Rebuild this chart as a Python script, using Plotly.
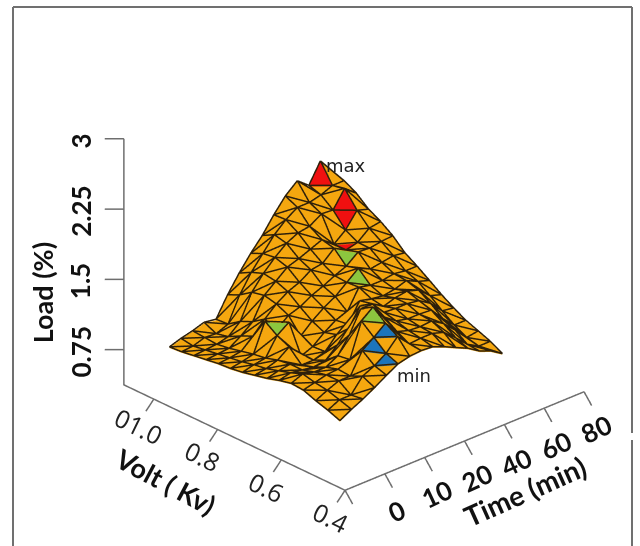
import plotly.graph_objects as go

time_ticks = ["0", "10", "20", "40", "60", "80"]
time_tick_pos = [1, 2, 3, 4, 5, 6]
volt_ticks = [0.4, 0.6, 0.8, 1.0]
volt_labels = ["0.4", "0.6", "0.8", "01.0"]
load_ticks = [0.75, 1.5, 2.25, 3]
load_labels = ["0.75", "1.5", "2.25", "3"]

time_grid = [0, .29, .58, .87, 1.17, 1.46, 1.75, 2.04, 2.33, 2.62, 2.91, 3.21, 3.50, 3.79, 4.08]
volt_grid = [.416, .454, .492, .531, .569, .607, .645, .684, .722, .760, .798, .836, .875, .913, .951]
load = [
 [1.08,1.13,1.17,1.22,1.23,1.20,1.16,1.13,1.10,1.08,1.07,1.05,1.03,1.01,1.00],
 [1.15,1.19,1.23,1.25,1.28,1.23,1.19,1.15,1.13,1.10,1.08,1.06,1.04,1.02,1.04],
 [1.21,1.19,1.28,1.28,1.25,1.21,1.21,1.19,1.15,1.13,1.10,1.07,1.05,1.06,1.07],
 [1.28,1.34,1.28,1.29,1.25,1.19,1.15,1.28,1.34,1.43,1.21,1.15,1.08,1.05,1.11],
 [1.36,1.40,1.50,1.34,1.32,1.21,1.15,1.13,1.43,1.29,1.34,1.25,1.19,1.10,1.09],
 [1.43,1.48,1.59,1.70,1.49,1.32,1.19,1.18,1.23,1.39,1.45,1.48,1.45,1.36,1.30],
 [1.46,1.61,1.69,1.80,1.72,1.45,1.32,1.28,1.34,1.43,1.53,1.58,1.60,1.55,1.48],
 [1.47,1.48,1.55,1.64,1.72,1.64,1.38,1.36,1.43,1.50,1.58,1.68,1.72,1.70,1.64],
 [1.46,1.49,1.51,1.55,1.58,1.61,1.58,1.40,1.50,1.55,1.66,1.72,1.82,1.85,1.78],
 [1.41,1.49,1.50,1.52,1.57,1.53,1.55,1.61,1.60,1.61,1.68,1.77,1.88,1.96,1.95],
 [1.35,1.45,1.51,1.52,1.57,1.57,1.53,1.58,1.70,1.66,1.79,1.82,1.90,2.04,2.10],
 [1.29,1.34,1.43,1.51,1.55,1.59,1.55,1.58,1.64,1.76,1.72,1.72,1.98,2.04,2.21],
 [1.21,1.22,1.31,1.37,1.47,1.55,1.59,1.60,1.66,1.75,1.75,1.82,1.97,2.07,2.11],
 [1.16,1.15,1.18,1.25,1.34,1.44,1.53,1.58,1.68,1.77,1.85,1.98,2.15,2.12,2.32],
 [1.08,1.15,1.20,1.25,1.32,1.40,1.49,1.58,1.66,1.78,1.87,1.94,2.05,2.12,2.15],
]
# marked facets: (time index, volt index, 'u' upper / 'l' lower, colour)
ORANGE, RED, GREEN, BLUE = "#F5A70F", "#F01010", "#8CC63F", "#1C75BC"
marked = [
 (12, 13, 'u', RED), (12, 11, 'u', RED), (12, 11, 'l', RED), (11, 10, 'l', RED),
 (10, 9, 'l', GREEN), (9, 7, 'u', GREEN), (5, 2, 'u', GREEN), (3, 8, 'l', GREEN),
 (5, 1, 'u', BLUE), (4, 1, 'u', BLUE), (4, 0, 'u', BLUE),
]

nx, ny = len(time_grid), len(volt_grid)
vid = lambda i, j: i * ny + j
vx = [time_grid[i] for i in range(nx) for j in range(ny)]
vy = [volt_grid[j] for i in range(nx) for j in range(ny)]
vz = [load[i][j] for i in range(nx) for j in range(ny)]
colour_of = {(a, b, c): d for a, b, c, d in marked}
I, J, K, FC = [], [], [], []
ex, ey, ez = [], [], []
LIFT = 0.012
def edge(a, b):
    ex.extend([vx[a], vx[b], None]); ey.extend([vy[a], vy[b], None])
    ez.extend([vz[a] + LIFT, vz[b] + LIFT, None])
for i in range(nx - 1):
    for j in range(ny - 1):
        a, b, c, d = vid(i, j), vid(i + 1, j), vid(i, j + 1), vid(i + 1, j + 1)
        I += [a, d]; J += [b, c]; K += [c, b]
        FC += [colour_of.get((i, j, 'l'), ORANGE), colour_of.get((i, j, 'u'), ORANGE)]
        edge(a, b); edge(a, c); edge(b, c)
        if i == nx - 2: edge(b, d)
        if j == ny - 2: edge(c, d)

X0, V0, Z0 = 0, 0.4, 0.375
XE, VE, ZE = 6, 1.094, 3
axx = [XE, X0, X0, X0]; axy = [V0, V0, VE, VE]; axz = [Z0, Z0, Z0, ZE]
tx, ty, tz = [], [], []
for p in [0] + time_tick_pos:
    tx += [p, p + .19, None]; ty += [V0, V0, None]; tz += [Z0, Z0 - .18, None]
for v in volt_ticks:
    tx += [X0, X0, None]; ty += [v, v + .025, None]; tz += [Z0, Z0 - .17, None]
for z in load_ticks:
    tx += [X0, X0 - .257, None]; ty += [VE, VE + .0277, None]; tz += [z, z, None]

fig = go.Figure()
fig.add_trace(go.Mesh3d(x=vx, y=vy, z=vz, i=I, j=J, k=K, facecolor=FC, flatshading=True,
                        lighting=dict(ambient=1.0, diffuse=0.0, specular=0, roughness=1, fresnel=0),
                        showscale=False, hoverinfo="skip"))
fig.add_trace(go.Scatter3d(x=ex, y=ey, z=ez, mode="lines", line=dict(color="#2E200A", width=3), hoverinfo="skip"))
GREY = "#6E6E6E"
fig.add_trace(go.Scatter3d(x=axx, y=axy, z=axz, mode="lines", line=dict(color=GREY, width=3), hoverinfo="skip"))
fig.add_trace(go.Scatter3d(x=tx, y=ty, z=tz, mode="lines", line=dict(color=GREY, width=3), hoverinfo="skip"))

ann = []
def note(x, y, z, text, sx, sy, angle=0, size=22, color="#111111", family="Lato"):
    ann.append(dict(x=x, y=y, z=z, text=text, showarrow=False, xshift=sx, yshift=-sy, textangle=angle,
                    font=dict(size=size, color=color, family=family), xanchor="center", yanchor="middle"))
for p, t in zip(time_tick_pos, time_ticks):
    note(p, V0, Z0, f"<b>{t}</b>", 12, 37, -25, 26)
for v, t in zip(volt_ticks, volt_labels):
    note(X0, v, Z0, t, -15, 27, 26, 25, "#222222", "Open Sans")
for z, t in zip(load_ticks, load_labels):
    note(X0, VE, z, f"<b>{t}</b>", -43, 2, -90, 26)
note(X0, 0.95, Z0, "<b>Volt ( Kv)</b>", -4, 75, 28, 27)
note(4.5, V0, Z0, "<b>Time (min)</b>", 1, 75, -24, 28)
note(X0, VE, 1.36, "<b>Load (%)</b>", -81, 0, -90, 27)
note(time_grid[13], volt_grid[14], load[13][14], "max", 26, 4, 0, 18, "#222222", "DejaVu Sans")
note(time_grid[5], volt_grid[0], load[5][0], "min", 16, 11, 0, 18, "#222222", "DejaVu Sans")

hidden = dict(visible=False)
S = 1.594
fig.update_layout(
    width=640, height=546, margin=dict(l=0, r=0, t=0, b=0), showlegend=False,
    paper_bgcolor="white",
    scene=dict(
        domain=dict(x=[0.103, 1], y=[0, 1]),
        xaxis=dict(range=[-1, 7], **hidden), yaxis=dict(range=[0.3, 1.2], **hidden), zaxis=dict(range=[0, 3.2], **hidden),
        aspectmode="manual", aspectratio=dict(x=1 * S, y=0.968 * S, z=0.769 * S),
        camera=dict(projection=dict(type="orthographic"),
                    center=dict(x=0, y=0, z=0), up=dict(x=0, y=0, z=1),
                    eye=dict(x=-0.61, y=-0.656, z=0.443)),
        annotations=ann,
    ),
    shapes=[
        dict(type="line", xref="paper", yref="paper", x0=13/640, x1=13/640, y0=0, y1=1-7/546, line=dict(color="#707070", width=2)),
        dict(type="line", xref="paper", yref="paper", x0=13/640, x1=632/640, y0=1-7/546, y1=1-7/546, line=dict(color="#707070", width=2)),
        dict(type="line", xref="paper", yref="paper", x0=632/640, x1=632/640, y0=1-7/546, y1=1-433/546, line=dict(color="#707070", width=2)),
        dict(type="line", xref="paper", yref="paper", x0=632/640, x1=632/640, y0=1-440/546, y1=0, line=dict(color="#707070", width=2)),
    ],
)
fig.write_html("out.html", config=dict(displayModeBar=False),
               post_script="document.body.style.margin='0';window.dispatchEvent(new Event('resize'));")
